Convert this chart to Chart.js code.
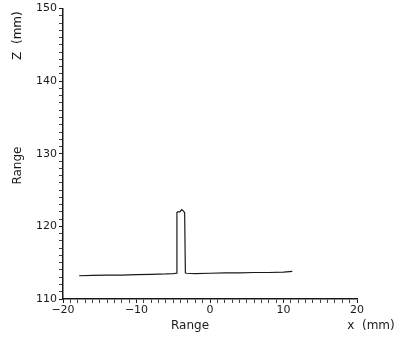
<!DOCTYPE html>
<html>
<head>
<meta charset="utf-8">
<script src="https://cdn.jsdelivr.net/npm/chart.js@4"></script>
<style>
  html, body { margin: 0; padding: 0; background: #fff; }
  #wrap { width: 395px; height: 341px; }
</style>
</head>
<body>
<div id="wrap"><canvas id="c" width="395" height="341"></canvas></div>
<script>
// profile scan: x (mm) vs z (mm)
const xValues = [-17.8, -16, -14, -12, -10, -8, -6, -5, -4.6, -4.5, -4.4, -4.1, -3.85, -3.6, -3.45, -3.35, -3.2, -2, 0, 2, 4, 6, 8, 10, 11.2];
const zValues = [113.2, 113.25, 113.3, 113.3, 113.35, 113.4, 113.45, 113.5, 113.55, 121.9, 122.0, 122.0, 122.3, 122.1, 121.9, 113.6, 113.55, 113.5, 113.55, 113.6, 113.6, 113.65, 113.65, 113.7, 113.8];

const xTickMin = -20, xTickMax = 20;
const zTickMin = 110, zTickMax = 150;
const majorStep = 10;

const points = xValues.map((x, i) => ({ x, y: zValues[i] }));

const ink = '#1a1a1a';
const font = { family: "'DejaVu Sans', sans-serif", size: 11 };

// the figure has two captions on each axis; draw them as text around the plot
const captions = {
  id: 'captions',
  afterDraw(chart) {
    const { ctx, chartArea: a } = chart;
    ctx.save();
    ctx.fillStyle = ink;
    ctx.font = "12px 'DejaVu Sans', sans-serif";
    ctx.textAlign = 'center';
    ctx.textBaseline = 'middle';
    ctx.fillText('Range', a.left + 127, a.bottom + 27);
    ctx.fillText('x  (mm)', a.right + 14, a.bottom + 27);
    ctx.translate(18, a.top + 27);
    ctx.rotate(-Math.PI / 2);
    ctx.fillText('Z  (mm)', 0, 0);
    ctx.restore();
    ctx.save();
    ctx.fillStyle = ink;
    ctx.font = "12px 'DejaVu Sans', sans-serif";
    ctx.textAlign = 'center';
    ctx.textBaseline = 'middle';
    ctx.translate(18, a.top + 157);
    ctx.rotate(-Math.PI / 2);
    ctx.fillText('Range', 0, 0);
    ctx.restore();
  }
};

const tickColor = (c) => (c.tick && c.tick.value % majorStep === 0 ? ink : '#444');

new Chart(document.getElementById('c'), {
  type: 'scatter',
  data: {
    datasets: [{
      data: points,
      showLine: true,
      borderColor: ink,
      borderWidth: 1.2,
      pointRadius: 0,
      tension: 0,
    }]
  },
  options: {
    responsive: false,
    animation: false,
    layout: { padding: { left: 0, top: 8, right: 38, bottom: 0 } },
    plugins: { legend: { display: false }, tooltip: { enabled: false } },
    scales: {
      x: {
        type: 'linear',
        min: xTickMin, max: xTickMax,
        afterFit: (s) => { s.height = 42; },
        border: { display: true, color: ink, width: 1.5 },
        grid: { drawOnChartArea: false, drawTicks: true, tickLength: 4, color: tickColor, tickWidth: 1 },
        ticks: {
          stepSize: 1, autoSkip: false, maxRotation: 0, color: ink, font, padding: 1,
          callback: (v) => (v % majorStep === 0 ? (v < 0 ? '\u2212' + Math.abs(v) : String(v)) : ''),
        },
      },
      y: {
        type: 'linear',
        min: zTickMin, max: zTickMax,
        afterFit: (s) => { s.width = 63; },
        border: { display: true, color: ink, width: 1.5 },
        grid: { drawOnChartArea: false, drawTicks: true, tickLength: 4, color: tickColor, tickWidth: 1 },
        ticks: {
          stepSize: 1, autoSkip: false, color: ink, font, padding: 2,
          callback: (v) => (v % majorStep === 0 ? String(v) : ''),
        },
      },
    },
  },
  plugins: [captions],
});
</script>
</body>
</html>
